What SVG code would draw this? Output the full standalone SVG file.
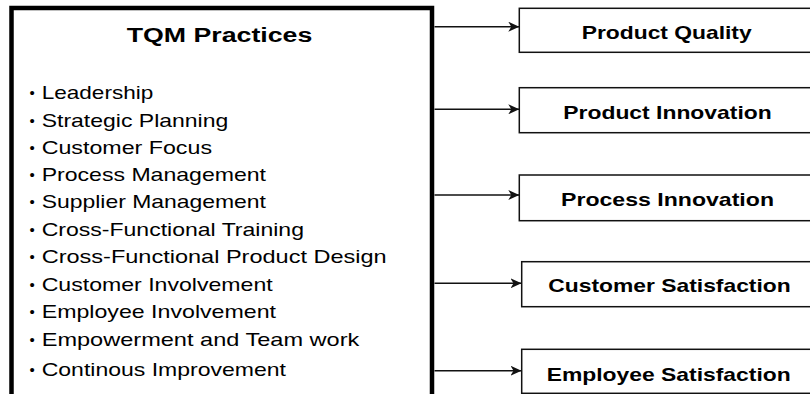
<svg xmlns="http://www.w3.org/2000/svg" width="810" height="394" viewBox="0 0 810 394">
<defs>
<style>
.bg{fill:#ffffff}
.main{fill:#ffffff;stroke:#000;stroke-width:4.5}
.out{fill:#ffffff;stroke:#111;stroke-width:1.5}
.title{font-family:"Liberation Sans",Arial,sans-serif;font-weight:bold;font-size:20px;fill:#000}
.item{font-family:"Liberation Sans",Arial,sans-serif;font-size:19px;fill:#000}
.bul{font-size:15px}
.lbl{font-family:"Liberation Sans",Arial,sans-serif;font-weight:bold;font-size:19px;fill:#000}
.conn{stroke:#111;stroke-width:1.5;fill:none;marker-end:url(#arr)}
</style>
<marker id="arr" markerUnits="userSpaceOnUse" markerWidth="12" markerHeight="10" refX="11" refY="5" orient="auto">
<path d="M0,0 L11,5 L0,10 L3,5 Z" fill="#111"/>
</marker>
</defs>
<rect class="bg" x="0" y="0" width="810" height="394"/>
<g id="tqm">
<rect class="main" x="11.5" y="8" width="420.5" height="400"/>
<text class="title" x="126.7" y="42.3" textLength="185.6" lengthAdjust="spacingAndGlyphs">TQM Practices</text>
<g class="item">
<text class="bul" x="29.5" y="98">•</text><text x="41.7" y="99" textLength="111.6" lengthAdjust="spacingAndGlyphs">Leadership</text>
<text class="bul" x="29.5" y="125.7">•</text><text x="41.7" y="126.7" textLength="186.6" lengthAdjust="spacingAndGlyphs">Strategic Planning</text>
<text class="bul" x="29.5" y="153">•</text><text x="41.7" y="154" textLength="170.3" lengthAdjust="spacingAndGlyphs">Customer Focus</text>
<text class="bul" x="29.5" y="180">•</text><text x="41.7" y="181" textLength="224.3" lengthAdjust="spacingAndGlyphs">Process Management</text>
<text class="bul" x="29.5" y="207.3">•</text><text x="41.7" y="208.3" textLength="224.3" lengthAdjust="spacingAndGlyphs">Supplier Management</text>
<text class="bul" x="29.5" y="235">•</text><text x="41.7" y="236" textLength="262.3" lengthAdjust="spacingAndGlyphs">Cross-Functional Training</text>
<text class="bul" x="29.5" y="262.3">•</text><text x="41.7" y="263.3" textLength="345" lengthAdjust="spacingAndGlyphs">Cross-Functional Product Design</text>
<text class="bul" x="29.5" y="289.7">•</text><text x="41.7" y="290.7" textLength="231" lengthAdjust="spacingAndGlyphs">Customer Involvement</text>
<text class="bul" x="29.5" y="317.3">•</text><text x="41.7" y="318.3" textLength="234.3" lengthAdjust="spacingAndGlyphs">Employee Involvement</text>
<text class="bul" x="29.5" y="345">•</text><text x="41.7" y="346" textLength="317.6" lengthAdjust="spacingAndGlyphs">Empowerment and Team work</text>
<text class="bul" x="29.5" y="374.7">•</text><text x="41.7" y="375.7" textLength="244.3" lengthAdjust="spacingAndGlyphs">Continous Improvement</text>
</g>
</g>
<g id="connectors">
<line class="conn" x1="434.5" y1="26.7" x2="519.3" y2="26.7"/>
<line class="conn" x1="434.5" y1="109.3" x2="519.3" y2="109.3"/>
<line class="conn" x1="434.5" y1="195" x2="519.3" y2="195"/>
<line class="conn" x1="434.5" y1="283.3" x2="521.5" y2="283.3"/>
<line class="conn" x1="434.5" y1="370.7" x2="521.5" y2="370.7"/>
</g>
<g id="product-quality">
<rect class="out" x="519.3" y="8.3" width="310" height="44"/>
<text class="lbl" x="581.7" y="39.3" textLength="170" lengthAdjust="spacingAndGlyphs">Product Quality</text>
</g>
<g id="product-innovation">
<rect class="out" x="519.3" y="87.7" width="310" height="45"/>
<text class="lbl" x="563.3" y="119" textLength="208.4" lengthAdjust="spacingAndGlyphs">Product Innovation</text>
</g>
<g id="process-innovation">
<rect class="out" x="519.3" y="175" width="310" height="45.7"/>
<text class="lbl" x="561" y="206" textLength="213" lengthAdjust="spacingAndGlyphs">Process Innovation</text>
</g>
<g id="customer-satisfaction">
<rect class="out" x="521.7" y="261.7" width="310" height="45"/>
<text class="lbl" x="548.3" y="292" textLength="242.4" lengthAdjust="spacingAndGlyphs">Customer Satisfaction</text>
</g>
<g id="employee-satisfaction">
<rect class="out" x="521.7" y="349.3" width="310" height="44"/>
<text class="lbl" x="546.7" y="380.7" textLength="244" lengthAdjust="spacingAndGlyphs">Employee Satisfaction</text>
</g>
</svg>
